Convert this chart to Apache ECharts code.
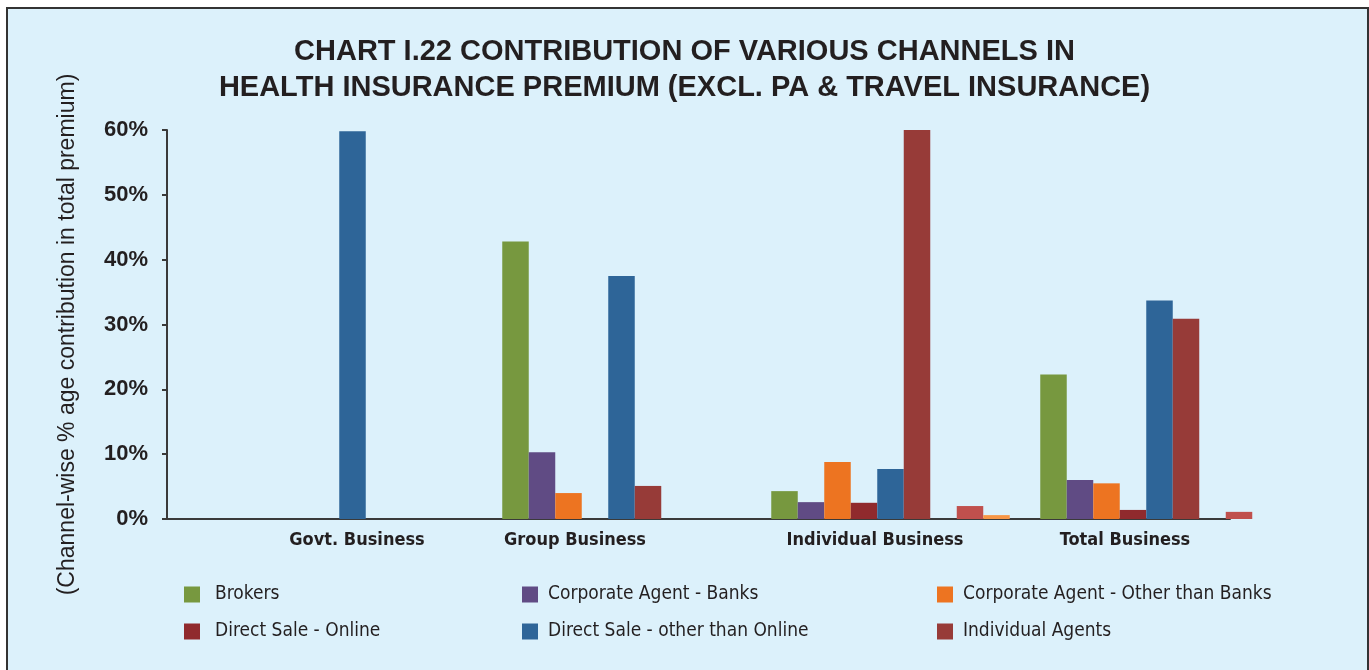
<!DOCTYPE html>
<html>
<head>
<meta charset="utf-8">
<title>Chart I.22</title>
<script src="https://cdn.jsdelivr.net/npm/echarts@6/dist/echarts.min.js"></script>
<style>
  html, body { margin: 0; padding: 0; background: #ffffff; }
  #frame {
    position: absolute; left: 6px; top: 7px; width: 1359px; height: 680px;
    background: #dcf1fb; border: 2px solid #333333; border-bottom: none;
  }
  #myChart { position: absolute; left: 0; top: 0; width: 1369px; height: 670px; }
</style>
</head>
<body>
<div id="frame"></div>
<div id="myChart"></div>
<script>
// categories on the x axis
var categories = ['Govt. Business', 'Group Business', 'Individual Business', 'Total Business']
// y axis ticks (%)
var yMin = 0
var yMax = 60
var yStep = 10

// channel-wise share of premium (%), one array per channel
var brokers        = [null, 42.8, 4.3, 22.3]
var caBanks        = [null, 10.3, 2.6, 6.0]
var caOthers       = [null, 4.0, 8.8, 5.5]
var dsOnline       = [null, null, 2.5, 1.4]
var dsOther        = [59.8, 37.5, 7.7, 33.7]
var indAgents      = [null, 5.1, 60.0, 30.9]
var microAgents    = [null, null, null, null]
var webAggregators = [null, null, 2.0, 1.1]
var imf            = [null, null, 0.6, null]

var seriesDefs = [
  { name: 'Brokers', data: brokers, color: '#77983f' },
  { name: 'Corporate Agent - Banks', data: caBanks, color: '#604b84' },
  { name: 'Corporate Agent - Other than Banks', data: caOthers, color: '#ed7421' },
  { name: 'Direct Sale - Online', data: dsOnline, color: '#902a2d' },
  { name: 'Direct Sale - other than Online', data: dsOther, color: '#2e6598' },
  { name: 'Individual Agents', data: indAgents, color: '#973b38' },
  { name: 'Micro Agents', data: microAgents, color: '#9bbb59' },
  { name: 'Web Aggregators', data: webAggregators, color: '#c0504d' },
  { name: 'Insurance Marketing Firm', data: imf, color: '#f79646' },
]

var narrow = "'Liberation Sans Narrow', 'DejaVu Sans Condensed', sans-serif"
var arial = "'Liberation Sans', Arial, sans-serif"
var ink = '#231f20'
var top0 = 130
var bottom0 = 151

// legend boxes: three columns, two rows
function legendCol(left, textPad, names) {
  return {
    orient: 'vertical',
    left: left,
    top: 585,
    padding: 0,
    itemWidth: 16,
    itemHeight: 16,
    itemGap: 18,
    icon: 'rect',
    data: names,
    textStyle: { fontFamily: narrow, fontSize: 19, color: ink, padding: [0, 0, 0, textPad] },
  }
}

function catLabel(pad) {
  return { fontFamily: narrow, fontWeight: 'bold', fontSize: 18, color: ink, padding: pad }
}

var option = {
  animation: false,
  title: {
    text: 'CHART I.22 CONTRIBUTION OF VARIOUS CHANNELS IN\nHEALTH INSURANCE PREMIUM (EXCL. PA & TRAVEL INSURANCE)',
    left: 'center',
    top: 29,
    textStyle: { fontFamily: arial, fontWeight: 'bold', fontSize: 29, lineHeight: 36, color: ink },
  },
  legend: [
    legendCol(184, 10, ['Brokers', 'Direct Sale - Online']),
    legendCol(522, 5, ['Corporate Agent - Banks', 'Direct Sale - other than Online']),
    legendCol(937, 5, ['Corporate Agent - Other than Banks', 'Individual Agents']),
  ],
  grid: [
    // bars
    { left: 218, right: 75, top: top0, bottom: bottom0 },
    // visible axes
    { left: 167, right: 139, top: top0, bottom: bottom0 },
  ],
  xAxis: [
    {
      type: 'category',
      gridIndex: 0,
      data: categories,
      axisLine: { show: false },
      axisTick: { show: false },
      axisLabel: {
        margin: 12,
        formatter: function (v, i) { return '{c' + i + '|' + v + '}' },
        rich: {
          c0: catLabel([0, 0, 0, 9]),
          c1: catLabel([0, 93, 0, 0]),
          c2: catLabel([0, 31, 0, 0]),
          c3: catLabel([0, 69, 0, 0]),
        },
      },
    },
    {
      type: 'category',
      gridIndex: 1,
      data: [''],
      axisLine: { lineStyle: { color: '#3a3a3a', width: 2 } },
      axisTick: { show: false },
      axisLabel: { show: false },
    },
  ],
  yAxis: [
    {
      type: 'value',
      gridIndex: 0,
      min: yMin,
      max: yMax,
      interval: yStep,
      show: false,
    },
    {
      type: 'value',
      gridIndex: 1,
      min: yMin,
      max: yMax,
      interval: yStep,
      name: '(Channel-wise % age contribution in total premium)',
      nameLocation: 'middle',
      nameGap: 88,
      nameTextStyle: { fontFamily: arial, fontSize: 23, color: ink, padding: [0, 20, 0, 0] },
      axisLine: { show: true, lineStyle: { color: '#3a3a3a', width: 2 } },
      axisTick: { show: true, length: 5, lineStyle: { color: '#3a3a3a', width: 2 } },
      splitLine: { show: false },
      axisLabel: {
        formatter: '{value}%',
        margin: 19,
        fontFamily: arial,
        fontWeight: 'bold',
        fontSize: 22,
        color: ink,
      },
    },
  ],
  series: seriesDefs.map(function (s) {
    return {
      name: s.name,
      type: 'bar',
      xAxisIndex: 0,
      yAxisIndex: 0,
      barWidth: 26.5,
      barGap: '0%',
      data: s.data,
      itemStyle: { color: s.color },
    }
  }),
}

var myChart = echarts.init(document.getElementById('myChart'))
myChart.setOption(option)
</script>
</body>
</html>
